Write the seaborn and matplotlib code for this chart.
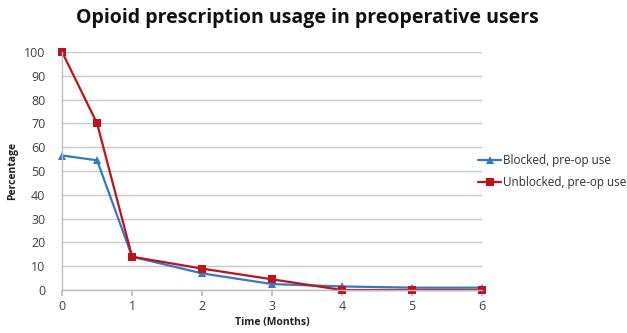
import matplotlib
matplotlib.use("Agg")
import matplotlib.pyplot as plt
import seaborn as sns
import pandas as pd

months = [0, 0.5, 1, 2, 3, 4, 5, 6]
blocked = [56.5, 54.5, 14, 7, 2.5, 1.5, 1, 1]
unblocked = [100, 70, 14, 9, 4.5, 0, 0, 0]
series_names = ["Blocked, pre-op use", "Unblocked, pre-op use"]
x_ticks = [0, 1, 2, 3, 4, 5, 6]
y_ticks = list(range(0, 101, 10))

df = pd.concat([
    pd.DataFrame({"Time": months, "Percentage": blocked, "Group": series_names[0]}),
    pd.DataFrame({"Time": months, "Percentage": unblocked, "Group": series_names[1]}),
])

sns.set_theme(style="white")
plt.rcParams["font.family"] = ["Open Sans", "DejaVu Sans"]

fig = plt.figure(figsize=(6.27, 3.33), dpi=100)
ax = fig.add_axes([0.099, 0.129, 0.670, 0.715])

palette = {series_names[0]: "#2f7bc4", series_names[1]: "#c3101a"}
sns.lineplot(data=df, x="Time", y="Percentage", hue="Group", style="Group",
             markers={series_names[0]: "^", series_names[1]: "s"}, dashes=False,
             palette=palette, markersize=6, linewidth=1.6, markeredgewidth=0,
             ax=ax, legend=True)

ax.set_xlim(0, 6)
ax.set_ylim(0, 100)
ax.set_xticks(x_ticks)
ax.set_yticks(y_ticks)
ax.yaxis.grid(True, color="#c8c8c8", linewidth=1)
ax.set_axisbelow(True)
for s in ["top", "right"]:
    ax.spines[s].set_visible(False)
for s in ["left", "bottom"]:
    ax.spines[s].set_color("#bdbdbd")
    ax.spines[s].set_linewidth(1)
ax.tick_params(axis="x", which="major", bottom=True, length=4, color="#bdbdbd",
               labelsize=9, labelcolor="#404040", pad=3)
ax.tick_params(axis="y", which="major", left=False, labelsize=9,
               labelcolor="#404040", pad=6)
for c in ax.lines:
    c.set_clip_on(False)

ax.set_xlabel("Time (Months)", fontsize=7.5, fontweight="bold", color="#202020", labelpad=3)
ax.set_ylabel("Percentage", fontsize=7.5, fontweight="bold", color="#202020", labelpad=4)

fig.suptitle("Opioid prescription usage in preoperative users", x=0.49, y=0.975,
             fontsize=14, fontweight="bold", color="#111111")

handles, labels = ax.get_legend_handles_labels()
ax.legend_.remove()
fig.legend(handles, labels, loc="upper left", bbox_to_anchor=(0.745, 0.57),
           frameon=False, fontsize=8.5, labelcolor="#303030", handlelength=2.0,
           handletextpad=0.1, labelspacing=0.75)

fig.savefig("out.png", dpi=100)
